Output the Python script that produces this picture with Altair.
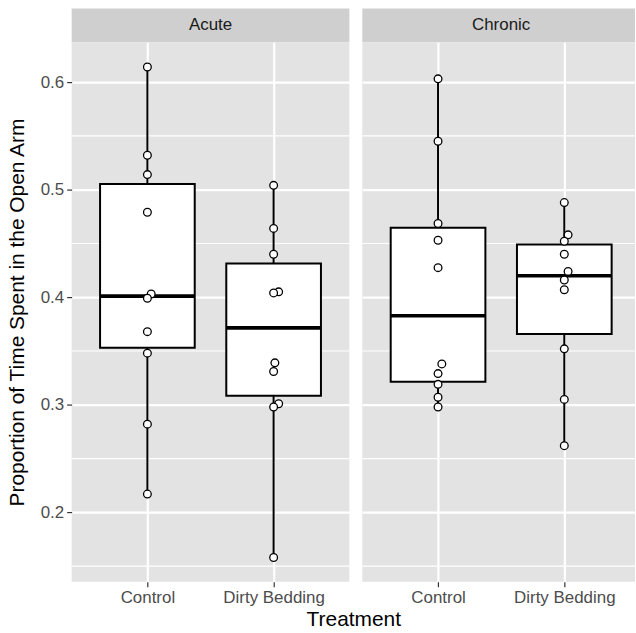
import altair as alt
import pandas as pd

# ---- data ----
exposures = ["Acute", "Chronic"]
treatments = ["Control", "Dirty Bedding"]

acute_control = [0.614, 0.532, 0.514, 0.479, 0.403, 0.399, 0.368, 0.348, 0.282, 0.217]
acute_dirty = [0.504, 0.464, 0.440, 0.405, 0.404, 0.339, 0.331, 0.301, 0.298, 0.158]
chronic_control = [0.603, 0.545, 0.4685, 0.453, 0.4275, 0.338, 0.329, 0.319, 0.307, 0.298]
chronic_dirty = [0.488, 0.458, 0.452, 0.440, 0.424, 0.416, 0.407, 0.352, 0.305, 0.262]

# horizontal jitter (fraction of category spacing)
acute_control_jit = [0, 0, 0, 0, 0.03, 0, 0, 0, 0, 0]
acute_dirty_jit = [0, 0, 0, 0.04, 0, 0.01, 0, 0.04, 0, 0]
chronic_control_jit = [0, 0, 0, 0, 0, 0.03, 0, 0, 0, 0]
chronic_dirty_jit = [0, 0.03, 0, 0, 0.03, 0, 0, 0, 0, 0]

y_breaks = [0.2, 0.3, 0.4, 0.5, 0.6]
y_minor = [0.15, 0.25, 0.35, 0.45, 0.55]

groups = [
    ("Acute", "Control", acute_control, acute_control_jit),
    ("Acute", "Dirty Bedding", acute_dirty, acute_dirty_jit),
    ("Chronic", "Control", chronic_control, chronic_control_jit),
    ("Chronic", "Dirty Bedding", chronic_dirty, chronic_dirty_jit),
]
rows = []
for exp, trt, vals, jit in groups:
    for v, j in zip(vals, jit):
        rows.append({"exposure": exp, "treatment": trt,
                     "pos": treatments.index(trt) + 1, "value": v, "jitter": j})
df = pd.DataFrame(rows)
minor_df = pd.DataFrame({"v": y_minor})

FONT = "Liberation Sans"
PANEL_FILL = "#E3E3E3"
STRIP_FILL = "#CFCFCF"
PANEL_H = 542
Y_DOMAIN = [0.1355, 0.637]
X_DOMAIN_FULL = [0.4, 2.6]
X_DOMAIN_CROPPED = [0.4, 2.56]   # right panel is cut by the picture's edge
LABEL_EXPR = "datum.value == 1 ? 'Control' : 'Dirty Bedding'"


def panel(exp, width, show_y, x_domain):
    base = alt.Chart(df).transform_filter(alt.datum.exposure == exp)
    xscale = alt.Scale(domain=x_domain, nice=False, zero=False)
    yscale = alt.Scale(domain=Y_DOMAIN, nice=False, zero=False)
    xaxis = alt.Axis(values=[1, 2], labelExpr=LABEL_EXPR, title=None, grid=True,
                     gridColor="white", gridWidth=2.2, domain=False,
                     tickColor="#333333", tickSize=5, tickWidth=1.2,
                     labelColor="#4D4D4D", labelFontSize=17, labelFont=FONT,
                     labelPadding=3)
    if show_y:
        yaxis = alt.Axis(values=y_breaks, format=".1f",
                         title="Proportion of Time Spent in the Open Arm",
                         grid=True, gridColor="white", gridWidth=2.2, domain=False,
                         tickColor="#333333", tickSize=5, tickWidth=1.2,
                         labelColor="#4D4D4D", labelFontSize=17, labelFont=FONT,
                         labelPadding=3, titleFont=FONT, titleFontSize=21,
                         titleFontWeight="normal", titleColor="black", titlePadding=13)
    else:
        yaxis = alt.Axis(values=y_breaks, labels=False, ticks=False, domain=False,
                         title=None, grid=True, gridColor="white", gridWidth=2.2)

    minor = alt.Chart(minor_df).mark_rule(color="white", strokeWidth=1.1).encode(
        y=alt.Y("v:Q", scale=yscale, axis=yaxis)
    )
    whisker = base.transform_aggregate(
        lo="min(value)", hi="max(value)", groupby=["pos"]
    ).mark_rule(color="black", strokeWidth=2).encode(
        x=alt.X("pos:Q", scale=xscale, axis=xaxis),
        y=alt.Y("lo:Q", scale=yscale),
        y2="hi:Q",
    )
    stats = base.transform_aggregate(
        q1="q1(value)", q3="q3(value)", med="median(value)", groupby=["pos"]
    ).transform_calculate(xl="datum.pos - 0.375", xr="datum.pos + 0.375")
    box = stats.mark_rect(fill="white", stroke="black", strokeWidth=2).encode(
        x=alt.X("xl:Q", scale=xscale), x2="xr:Q",
        y=alt.Y("q1:Q", scale=yscale), y2="q3:Q",
    )
    median = stats.mark_rule(color="black", strokeWidth=3.6).encode(
        x=alt.X("xl:Q", scale=xscale), x2="xr:Q",
        y=alt.Y("med:Q", scale=yscale),
    )
    pts = base.transform_calculate(px="datum.pos + datum.jitter").mark_circle(
        fill="white", stroke="black", strokeWidth=1.3, size=60, opacity=1
    ).encode(
        x=alt.X("px:Q", scale=xscale),
        y=alt.Y("value:Q", scale=yscale),
    )
    return alt.layer(minor, whisker, box, median, pts).properties(
        width=width, height=PANEL_H,
        view=alt.ViewBackground(fill=PANEL_FILL, stroke=None),
    )


def strip(exp, width, center):
    return alt.Chart(pd.DataFrame({"label": [exp]})).mark_text(
        font=FONT, fontSize=17, color="#1A1A1A", baseline="middle", align="center"
    ).encode(
        x=alt.value(center), y=alt.value(17), text="label:N"
    ).properties(width=width, height=34,
                 view=alt.ViewBackground(fill=STRIP_FILL, stroke=None))


left = alt.vconcat(strip("Acute", 279, 139.5),
                   panel("Acute", 279, True, X_DOMAIN_FULL), spacing=0)
right = alt.vconcat(strip("Chronic", 274, 139.5),
                    panel("Chronic", 274, False, X_DOMAIN_CROPPED), spacing=0)

chart = alt.hconcat(left, right, spacing=11).properties(
    title=alt.TitleParams(text="Treatment", orient="bottom", anchor="middle",
                          font=FONT, fontSize=21, fontWeight="normal",
                          color="black", offset=3, dx=33),
    padding={"left": 6, "top": 7, "right": 0, "bottom": 0},
).configure_view(stroke=None)

chart.save("out.html", embed_options={"renderer": "svg", "actions": False})
